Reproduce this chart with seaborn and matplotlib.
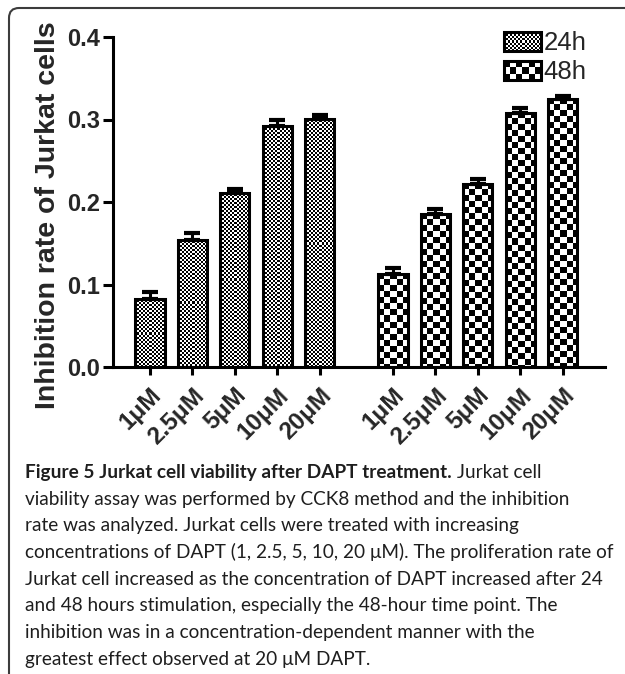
import numpy as np
import pandas as pd
import matplotlib
matplotlib.use('Agg')
import matplotlib.pyplot as plt
import seaborn as sns
from matplotlib import font_manager
from matplotlib.legend_handler import HandlerBase
from matplotlib.image import BboxImage
from matplotlib.transforms import Bbox, TransformedBbox, IdentityTransform
from matplotlib.patches import Rectangle, Patch, FancyBboxPatch
from matplotlib.colors import Normalize

# values
concs = ['1μM', '2.5μM', '5μM', '10μM', '20μM']
times = ['24h', '48h']
mean_24h = [0.083, 0.154, 0.211, 0.292, 0.301]
err_24h = [0.008, 0.008, 0.005, 0.007, 0.005]
mean_48h = [0.113, 0.186, 0.222, 0.308, 0.325]
err_48h = [0.007, 0.006, 0.006, 0.006, 0.004]

caption = [
    'viability assay was performed by CCK8 method and the inhibition',
    'rate was analyzed. Jurkat cells were treated with increasing',
    'concentrations of DAPT (1, 2.5, 5, 10, 20 μM). The proliferation rate of',
    'Jurkat cell increased as the concentration of DAPT increased after 24',
    'and 48 hours stimulation, especially the 48-hour time point. The',
    'inhibition was in a concentration-dependent manner with the',
    'greatest effect observed at 20 μM DAPT.',
]
caption_title = 'Figure 5 Jurkat cell viability after DAPT treatment.'
caption_rest = ' Jurkat cell'

GAP = 0.73       # extra space between the two time groups
CELLS = {'24h': 2, '48h': 6}   # checker cell size in pixels

rows = []
for g, (t, means, errs) in enumerate(zip(times, [mean_24h, mean_48h], [err_24h, err_48h])):
    for i, c in enumerate(concs):
        rows.append({'time': t, 'conc': c, 'value': means[i], 'err': errs[i],
                     'pos': i + g * (len(concs) + GAP)})
df = pd.DataFrame(rows)


def checker(h, w, cell):
    yy, xx = np.indices((max(h, 1), max(w, 1)))
    return ((yy // cell + xx // cell) % 2).astype(float)


class CheckerHandler(HandlerBase):
    def __init__(self, cell):
        super().__init__()
        self.cell = cell

    def create_artists(self, legend, orig_handle, xdescent, ydescent,
                       width, height, fontsize, trans):
        dpi = legend.figure.dpi
        bb = TransformedBbox(Bbox.from_bounds(-xdescent, -ydescent, width, height), trans)
        img = BboxImage(bb, cmap='gray', norm=Normalize(0, 1), interpolation='nearest')
        img.set_data(checker(int(height * dpi / 72), int(width * dpi / 72), self.cell))
        rect = Rectangle((-xdescent, -ydescent), width, height, facecolor='none',
                         edgecolor='black', linewidth=2.2, transform=trans)
        return [img, rect]


sns.set_style('ticks')
plt.rcParams['font.family'] = ['Liberation Sans', 'DejaVu Sans']

fig = plt.figure(figsize=(6.25, 6.74), dpi=100)
ax = fig.add_axes([113 / 625, 1 - 367 / 674, 492 / 625, 330 / 674])

sns.barplot(data=df, x='pos', y='value', native_scale=True, width=0.69,
            color='white', edgecolor='black', linewidth=2.2, errorbar=None,
            saturation=1, ax=ax)

ax.errorbar(df['pos'], df['value'], yerr=[np.zeros(len(df)), df['err']], fmt='none',
            ecolor='black', elinewidth=2.2, capsize=6, capthick=3, zorder=3)

x0 = -0.873
ax.set_xlim(x0, x0 + 492 / 42.4)
ax.set_ylim(0, 0.4)
ax.set_yticks([0, 0.1, 0.2, 0.3, 0.4])
ax.set_yticklabels(['0.0', '0.1', '0.2', '0.3', '0.4'], fontsize=17, fontweight='bold')
ax.set_xticks(df['pos'])
ax.set_xticklabels(df['conc'], fontsize=17.5, fontweight='bold',
                   rotation=45, ha='right', va='top', rotation_mode='anchor')
ax.tick_params(axis='y', length=7, width=2.2, pad=2, color='black')
ax.tick_params(axis='x', length=6, width=2.2, pad=6, color='black')
sns.despine(ax=ax)
for s in ['left', 'bottom']:
    ax.spines[s].set_linewidth(2.2)
    ax.spines[s].set_color('black')
ax.set_xlabel('')
ax.set_ylabel('Inhibition rate of Jurkat cells', fontsize=20.5, fontweight='bold', va='center')
ax.yaxis.set_label_coords(-0.132, 0.46)

# fill each bar with its checker pattern
fig.canvas.draw()
bars = sorted(ax.patches, key=lambda p: p.get_x())
for p, t in zip(bars, df.sort_values('pos')['time']):
    p.set_facecolor('none')
    bb = p.get_window_extent()
    arr = checker(int(round(bb.height)), int(round(bb.width)), CELLS[t])
    im = ax.imshow(arr, cmap='gray', vmin=0, vmax=1, interpolation='nearest',
                   extent=(p.get_x(), p.get_x() + p.get_width(), 0, p.get_height()),
                   aspect='auto', origin='upper', zorder=p.get_zorder() - 0.1)
    im.set_clip_path(p)
ax.set_xlim(x0, x0 + 492 / 42.4)
ax.set_ylim(0, 0.4)

handles = [Patch(label=t) for t in times]
ax.legend(handles=handles, labels=times,
          handler_map={handles[0]: CheckerHandler(CELLS['24h']),
                       handles[1]: CheckerHandler(CELLS['48h'])},
          loc='upper left', bbox_to_anchor=(504 / 625, 1 - 31 / 674),
          bbox_transform=fig.transFigure, frameon=False, borderpad=0,
          borderaxespad=0, fontsize=18.5, handlelength=1.45, handleheight=0.76,
          handletextpad=0.1, labelspacing=0.2)

# caption below the chart: pick a narrow humanist-ish face and fit it to the width
installed = {f.name for f in font_manager.fontManager.ttflist}
cap_face = next(f for f in ['Liberation Sans Narrow', 'DejaVu Sans Condensed', 'Lato',
                            'Open Sans', 'Liberation Sans'] if f in installed)
cap_font = [cap_face, 'DejaVu Sans']
probe = fig.text(0, 0, caption[2], fontsize=14, family=cap_font)
fig.canvas.draw()
cap_size = 14 * 590 / probe.get_window_extent().width
probe.remove()

t1 = fig.text(25 / 625, 1 - 478 / 674, caption_title, fontsize=cap_size, fontweight='bold',
              family=cap_font, va='baseline', ha='left', color='#1e1e1e')
fig.canvas.draw()
ext = t1.get_window_extent()
fig.text(ext.x1 / 625, 1 - 478 / 674, caption_rest, fontsize=cap_size, family=cap_font,
         va='baseline', ha='left', color='#1e1e1e')
for k, line in enumerate(caption):
    fig.text(25 / 625, 1 - (478 + 26.7 * (k + 1)) / 674, line, fontsize=cap_size,
             family=cap_font, va='baseline', ha='left', color='#1e1e1e')

# frame with a rounded top-left corner
frame = FancyBboxPatch((9, -30), 700, 696, boxstyle='round,pad=0,rounding_size=10',
                       facecolor='none', edgecolor='#3c3c3c', linewidth=1.5,
                       transform=IdentityTransform())
fig.add_artist(frame)

fig.savefig('out.png', dpi=100)
